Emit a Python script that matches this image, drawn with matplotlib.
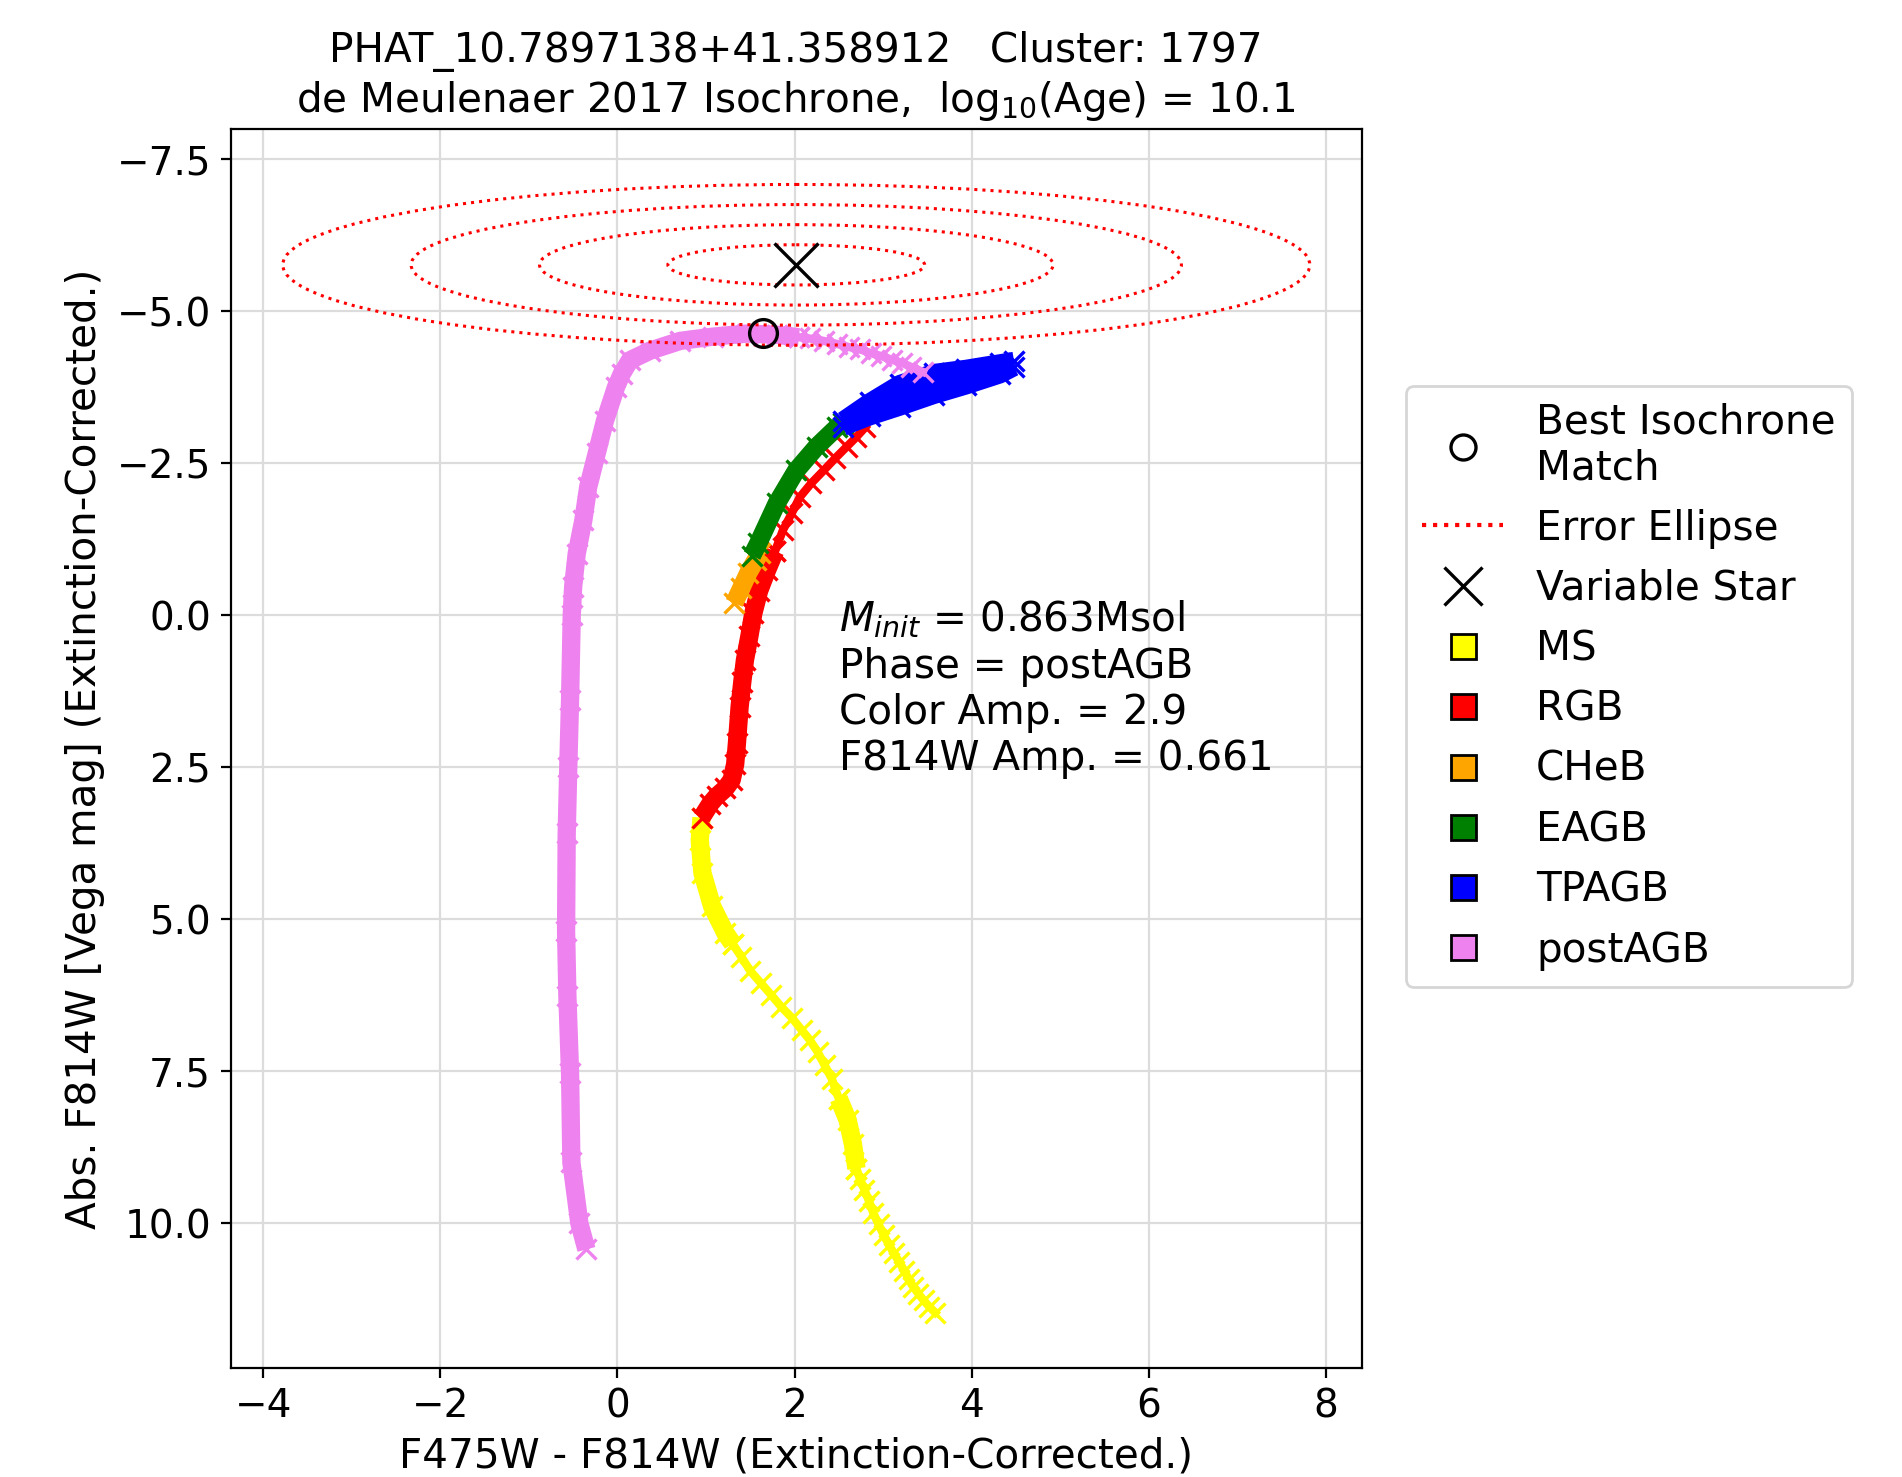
import numpy as np
import matplotlib
matplotlib.use("Agg")
import matplotlib.pyplot as plt
from matplotlib.patches import Ellipse
from matplotlib.lines import Line2D

# ---------------- data ----------------
# MS track (F475W-F814W, F814W)
ms_dense_x = [0.95, 0.93, 0.96, 1.07, 1.22, 1.30]
ms_dense_y = [3.33, 3.70, 4.24, 4.79, 5.23, 5.40]
ms_sparse1_x = [1.30, 1.40, 1.50, 1.62, 1.74, 1.85, 1.97, 2.08, 2.17, 2.26, 2.34, 2.42, 2.50]
ms_sparse1_y = [5.40, 5.62, 5.85, 6.05, 6.25, 6.44, 6.62, 6.82, 6.98, 7.18, 7.40, 7.62, 7.95]
ms_dense2_x = [2.50, 2.60, 2.66, 2.70]
ms_dense2_y = [7.95, 8.30, 8.70, 9.10]
ms_sparse2_x = [2.70, 2.74, 2.79, 2.84, 2.89, 2.95, 3.01, 3.07, 3.12, 3.18, 3.24, 3.29, 3.34, 3.40, 3.46, 3.52, 3.59]
ms_sparse2_y = [9.10, 9.28, 9.45, 9.63, 9.83, 10.02, 10.20, 10.36, 10.49, 10.63, 10.78, 10.92, 11.04, 11.16, 11.27, 11.37, 11.47]

# RGB track
rgb_dense_x = [0.95, 1.05, 1.12, 1.22, 1.29, 1.33, 1.35, 1.38, 1.41, 1.44, 1.49, 1.535, 1.60, 1.69, 1.78]
rgb_dense_y = [3.33, 3.10, 2.98, 2.85, 2.71, 2.45, 2.10, 1.51, 1.10, 0.74, 0.35, -0.03, -0.40, -0.74, -1.05]
rgb_sparse_x = [1.78, 1.87, 1.97, 2.06, 2.19, 2.33, 2.46, 2.59, 2.70, 2.80]
rgb_sparse_y = [-1.05, -1.40, -1.68, -1.94, -2.17, -2.38, -2.58, -2.77, -2.93, -3.09]

# CHeB track
cheb_x = [1.32, 1.40, 1.48, 1.56, 1.61]
cheb_y = [-0.20, -0.45, -0.70, -0.90, -1.02]

# EAGB track
eagb_x = [1.52, 1.59, 1.80, 2.02, 2.25, 2.48, 2.55]
eagb_y = [-0.98, -1.18, -1.84, -2.38, -2.77, -3.09, -3.16]

# TPAGB band (upper and lower edge of the pulses)
tpagb_x = [2.55, 2.85, 3.19, 3.57, 3.94, 4.32, 4.48]
tpagb_upper = [-3.20, -3.50, -3.80, -3.98, -4.05, -4.14, -4.18]
tpagb_lower = [-3.10, -3.27, -3.43, -3.62, -3.78, -3.96, -4.08]

# postAGB track
pagb_dense_x = [-0.35, -0.43, -0.52, -0.535, -0.565, -0.58, -0.573, -0.555, -0.535, -0.516,
                -0.50, -0.46, -0.385, -0.33, -0.234, -0.14, -0.016, 0.05, 0.14, 0.37,
                0.71, 1.08, 1.46, 1.80, 2.05]
pagb_dense_y = [10.43, 10.0, 9.0, 7.53, 6.27, 5.2, 3.59, 2.49, 1.40, 0.0,
                -0.47, -1.01, -1.56, -2.11, -2.66, -3.20, -3.75, -3.97, -4.19, -4.35,
                -4.51, -4.58, -4.63, -4.61, -4.57]
pagb_sparse_x = [2.05, 2.17, 2.33, 2.48, 2.61, 2.74, 2.86, 2.98, 3.10, 3.21, 3.32, 3.45]
pagb_sparse_y = [-4.57, -4.55, -4.51, -4.46, -4.41, -4.37, -4.31, -4.26, -4.20, -4.15, -4.08, -4.00]

# Variable star and best match
var_color, var_mag = 2.02, -5.76
best_color, best_mag = 1.64, -4.64
color_amp = 2.9
f814w_amp = 0.661
m_init = 0.863
phase_name = "postAGB"
n_sigma = [1, 2, 3, 4]

phase_labels = ["MS", "RGB", "CHeB", "EAGB", "TPAGB", "postAGB"]
phase_colors = ["yellow", "red", "orange", "green", "blue", "violet"]

xticks = [-4, -2, 0, 2, 4, 6, 8]
yticks = [-7.5, -5.0, -2.5, 0.0, 2.5, 5.0, 7.5, 10.0]

# ---------------- plot ----------------
plt.rcParams['font.family'] = ['DejaVu Sans']
FS = 14.6
fig = plt.figure(figsize=(9.51, 7.385), dpi=200)
ax = fig.add_axes([0.1212, 0.0738, 0.5949, 0.8391])

MS_ = 7.0
MEW = 1.2
BAND = 6.6


def dense(x, y, c, z=2):
    ax.plot(x, y, color=c, lw=BAND, solid_joinstyle='round', solid_capstyle='butt', zorder=z)
    ax.plot(x, y, color=c, lw=0, marker='x', ms=MS_, mew=MEW, zorder=z)


def sparse(x, y, c, z=2):
    ax.plot(x, y, color=c, lw=3.0, marker='x', ms=MS_, mew=MEW, zorder=z)


sparse(ms_sparse1_x, ms_sparse1_y, 'yellow')
sparse(ms_sparse2_x, ms_sparse2_y, 'yellow')
dense(ms_dense_x, ms_dense_y, 'yellow')
dense(ms_dense2_x, ms_dense2_y, 'yellow')

sparse(rgb_sparse_x, rgb_sparse_y, 'red')
dense(rgb_dense_x, rgb_dense_y, 'red')

dense(cheb_x, cheb_y, 'orange', z=3)
dense(eagb_x, eagb_y, 'green', z=3)

ax.fill_between(tpagb_x, tpagb_upper, tpagb_lower, color='blue', lw=0, zorder=3)
dense(tpagb_x, tpagb_upper, 'blue', z=3)
dense(tpagb_x, tpagb_lower, 'blue', z=3)

dense(pagb_dense_x, pagb_dense_y, 'violet', z=3)
sparse(pagb_sparse_x, pagb_sparse_y, 'violet', z=3)

for k in n_sigma:
    ax.add_patch(Ellipse((var_color, var_mag), width=2 * k * color_amp / 2,
                         height=2 * k * f814w_amp / 2, fill=False,
                         edgecolor='red', linestyle=':', lw=1.1, zorder=4))

ax.plot([var_color], [var_mag], marker='x', color='black', ms=16, mew=1.2, lw=0, zorder=5)
ax.plot([best_color], [best_mag], marker='o', mfc='none', mec='black', ms=10, mew=1.2,
        lw=0, zorder=6)

ax.text(2.5, -0.27,
        "$M_{init}$ = %.3fMsol\nPhase = %s\nColor Amp. = %.1f\nF814W Amp. = %.3f"
        % (m_init, phase_name, color_amp, f814w_amp),
        fontsize=FS, va='top', ha='left', zorder=7)

ax.set_xlim(-4.37, 8.41)
ax.set_ylim(12.38, -8.0)
ax.set_xticks(xticks)
ax.set_yticks(yticks)
ax.tick_params(labelsize=14)
ax.grid(True, color='#dcdcdc', lw=0.8, zorder=0)
ax.set_axisbelow(True)

ax.set_xlabel("F475W - F814W (Extinction-Corrected.)", fontsize=FS)
ax.set_ylabel("Abs. F814W [Vega mag] (Extinction-Corrected.)", fontsize=FS)
ax.set_title("PHAT_10.7897138+41.358912   Cluster: 1797\n"
             "de Meulenaer 2017 Isochrone,  log$_{10}$(Age) = 10.1", fontsize=FS)

handles = [
    Line2D([], [], marker='o', mfc='none', mec='black', ms=9, mew=1.2, lw=0),
    Line2D([], [], color='red', linestyle=':', lw=1.5),
    Line2D([], [], marker='x', color='black', ms=14, mew=1.2, lw=0),
]
for c in phase_colors:
    handles.append(Line2D([], [], marker='s', mfc=c, mec='black', ms=9, mew=1.0, lw=0))
labels = ["Best Isochrone\nMatch", "Error Ellipse", "Variable Star"] + phase_labels
ax.legend(handles, labels, loc='center left', bbox_to_anchor=(1.039, 0.55),
          borderaxespad=0, fontsize=FS, handlelength=2.0, labelspacing=0.5)

fig.savefig("out.png", dpi=200)
